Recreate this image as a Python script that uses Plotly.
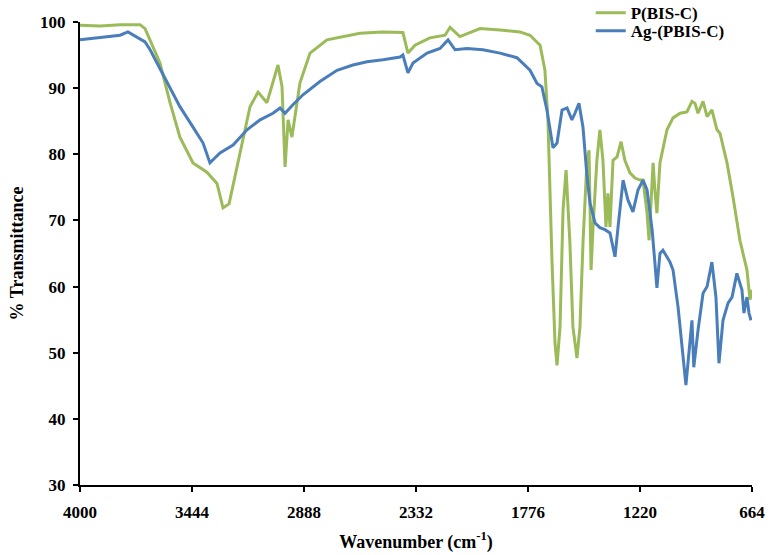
import plotly.graph_objects as go

# Wavenumbers (cm^-1) and % transmittance
p_wn = [4000, 3900, 3800, 3702, 3677, 3603, 3553, 3504, 3439, 3370, 3320, 3290, 3260,
        3206, 3156, 3116, 3072, 3017, 2997, 2982, 2967, 2948, 2923, 2908, 2858, 2774,
        2610, 2500, 2397, 2372, 2337, 2263, 2188, 2163, 2114, 2014, 1915, 1816, 1766,
        1716, 1692, 1677, 1657, 1642, 1632, 1617, 1602, 1587, 1568, 1553, 1533, 1518,
        1503, 1483, 1473, 1463, 1453, 1434, 1419, 1404, 1389, 1379, 1369, 1354, 1334,
        1314, 1295, 1270, 1245, 1220, 1205, 1185, 1175, 1155, 1146, 1136, 1121, 1086,
        1056, 1021, 987, 962, 947, 932, 907, 887, 863, 838, 823, 788, 758, 724, 689,
        674, 664]
p_t = [99.5, 99.4, 99.6, 99.6, 99.0, 93.8, 87.8, 82.6, 78.7, 77.3, 75.6, 71.9, 72.5,
       80.2, 87.2, 89.4, 87.8, 93.5, 90.2, 78.1, 85.2, 82.6, 87.8, 90.8, 95.3, 97.3,
       98.3, 98.5, 98.4, 95.3, 96.5, 97.6, 98.0, 99.2, 97.8, 99.0, 98.8, 98.5, 98.0,
       96.5, 92.7, 85.2, 64.0, 51.5, 48.1, 53.9, 71.6, 77.6, 66.6, 53.9, 49.2, 53.9,
       66.6, 79.1, 80.6, 62.5, 69.0, 79.1, 83.7, 79.1, 69.0, 74.1, 69.0, 79.1, 79.6,
       81.9, 79.1, 77.2, 76.4, 76.1, 76.1, 71.1, 67.0, 78.7, 74.6, 71.1, 78.7, 83.7,
       85.5, 86.2, 86.4, 88.0, 87.7, 86.2, 88.0, 85.7, 86.7, 83.7, 83.2, 78.7, 73.5,
       67.0, 62.5, 58.0, 59.5]

ag_wn = [4000, 3901, 3801, 3762, 3727, 3677, 3652, 3603, 3553, 3504, 3439, 3389, 3355,
         3305, 3240, 3171, 3106, 3042, 3007, 2982, 2943, 2893, 2809, 2724, 2645, 2575,
         2496, 2411, 2397, 2372, 2347, 2277, 2213, 2173, 2138, 2079, 2000, 1915, 1831,
         1766, 1731, 1707, 1682, 1652, 1632, 1607, 1582, 1558, 1543, 1523, 1503, 1483,
         1468, 1443, 1419, 1394, 1369, 1344, 1329, 1304, 1280, 1255, 1230, 1205, 1185,
         1160, 1146, 1136, 1121, 1106, 1071, 1056, 1031, 1012, 992, 982, 962, 953, 932,
         907, 887, 863, 843, 828, 808, 783, 763, 739, 714, 704, 689, 679, 669]
ag_t = [97.3, 97.6, 98.0, 98.5, 97.9, 97.0, 95.8, 93.0, 90.2, 87.2, 84.1, 81.7, 78.7,
        80.2, 81.4, 83.7, 85.2, 86.2, 87.0, 86.2, 87.5, 89.0, 91.0, 92.7, 93.5, 94.0,
        94.3, 94.7, 95.0, 92.3, 93.8, 95.3, 96.0, 97.3, 95.8, 96.0, 95.8, 95.3, 94.6,
        92.7, 90.7, 90.2, 86.7, 81.0, 81.7, 86.7, 87.0, 85.2, 86.2, 87.7, 84.1, 76.6,
        72.6, 69.6, 68.9, 68.6, 68.1, 64.5, 69.0, 76.1, 73.1, 71.3, 74.6, 76.1, 74.6,
        68.6, 63.6, 59.8, 65.0, 65.5, 63.7, 62.5, 56.9, 50.9, 45.1, 48.4, 54.9, 47.8,
        53.4, 59.0, 60.0, 63.7, 58.4, 48.4, 54.9, 57.5, 58.4, 62.0, 59.5, 56.0, 58.4,
        56.0, 54.9]

x_ticks = [4000, 3444, 2888, 2332, 1776, 1220, 664]
y_ticks = [30, 40, 50, 60, 70, 80, 90, 100]

FONT = "Liberation Serif"

fig = go.Figure()
fig.add_trace(go.Scatter(x=p_wn, y=p_t, mode="lines", name="<b>P(BIS-C)</b>",
                         line=dict(color="#9BBB59", width=3), legend="legend"))
fig.add_trace(go.Scatter(x=ag_wn, y=ag_t, mode="lines", name="<b>Ag-(PBIS-C)</b>",
                         line=dict(color="#4A7EBB", width=3), legend="legend2"))

leg_common = dict(x=0.76, xanchor="left", yanchor="middle", bgcolor="rgba(0,0,0,0)",
                  font=dict(family=FONT, size=17, color="black"), itemwidth=30)

fig.update_layout(
    width=770, height=555,
    margin=dict(l=80, r=18, t=22, b=70, autoexpand=False),
    paper_bgcolor="white", plot_bgcolor="white",
    font=dict(family=FONT, size=17, color="black"),
    showlegend=True,
    legend=dict(y=1.019, **leg_common),
    legend2=dict(y=0.980, **leg_common),
)
fig.update_xaxes(
    range=[4000, 664], tickmode="array", tickvals=x_ticks,
    ticktext=[f"<b>{v}</b>" for v in x_ticks],
    showline=True, linecolor="black", linewidth=2, mirror=False,
    ticks="outside", ticklen=5, tickwidth=2, tickcolor="black",
    showgrid=False, zeroline=False, ticklabelstandoff=6,
    title=dict(text="<b>Wavenumber (cm<sup>-1</sup>)</b>", standoff=14,
               font=dict(family=FONT, size=18)),
)
fig.update_yaxes(
    range=[30, 100], tickmode="array", tickvals=y_ticks,
    ticktext=[f"<b>{v}</b>" for v in y_ticks],
    showline=True, linecolor="black", linewidth=2,
    ticks="outside", ticklen=5, tickwidth=2, tickcolor="black",
    showgrid=False, zeroline=False, ticklabelstandoff=4,
    title=dict(text="<b>% Transmittance</b>", standoff=12,
               font=dict(family=FONT, size=18)),
)

fig.write_html("out.html")
